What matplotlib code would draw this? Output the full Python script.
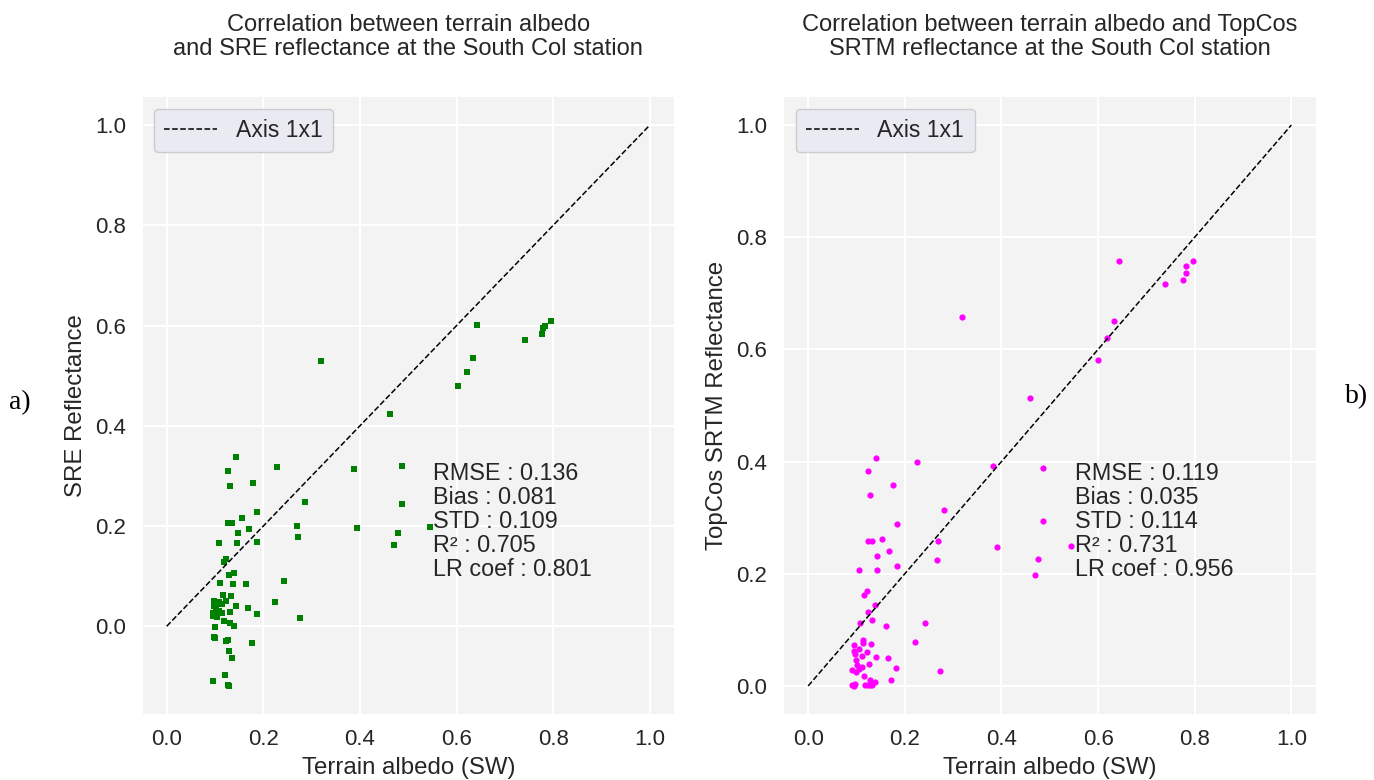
import matplotlib
matplotlib.use("Agg")
import matplotlib.pyplot as plt

plt.rcParams['font.family'] = ['Liberation Sans', 'DejaVu Sans']

# ---- data ----
sre_x = [0.143, 0.126, 0.131, 0.228, 0.178, 0.287, 0.186, 0.155, 0.126, 0.136,
         0.171, 0.147, 0.270, 0.272, 0.109, 0.145, 0.186, 0.123, 0.119, 0.129,
         0.140, 0.111, 0.138, 0.164, 0.243, 0.117, 0.133, 0.097, 0.108, 0.123,
         0.224, 0.098, 0.114, 0.103, 0.143, 0.169, 0.108, 0.096, 0.115, 0.131,
         0.186, 0.095, 0.104, 0.276, 0.119, 0.131, 0.140, 0.100, 0.097, 0.100,
         0.123, 0.126, 0.176, 0.129, 0.136, 0.121, 0.095, 0.126, 0.129,
         0.643, 0.795, 0.782, 0.779, 0.777, 0.741, 0.633, 0.621, 0.603, 0.320,
         0.462, 0.387, 0.488, 0.488, 0.394, 0.545, 0.478, 0.470]
sre_y = [0.337, 0.309, 0.279, 0.318, 0.286, 0.248, 0.228, 0.216, 0.207, 0.207,
         0.194, 0.186, 0.200, 0.178, 0.166, 0.166, 0.168, 0.135, 0.129, 0.103,
         0.107, 0.087, 0.084, 0.084, 0.091, 0.063, 0.061, 0.050, 0.049, 0.050,
         0.048, 0.040, 0.044, 0.037, 0.040, 0.036, 0.030, 0.027, 0.027, 0.029,
         0.025, 0.020, 0.018, 0.017, 0.011, 0.007, 0.001, -0.001, -0.022, -0.024,
         -0.030, -0.028, -0.033, -0.049, -0.064, -0.098, -0.110, -0.117, -0.119,
         0.602, 0.609, 0.600, 0.596, 0.584, 0.572, 0.535, 0.508, 0.480, 0.529,
         0.424, 0.313, 0.320, 0.244, 0.197, 0.199, 0.186, 0.163]

topcos_x = [0.140, 0.226, 0.383, 0.123, 0.176, 0.128, 0.282, 0.183, 0.123, 0.133,
            0.152, 0.268, 0.391, 0.168, 0.142, 0.267, 0.184, 0.106, 0.142, 0.121,
            0.116, 0.138, 0.123, 0.108, 0.133, 0.161, 0.241, 0.113, 0.113, 0.094,
            0.130, 0.222, 0.106, 0.094, 0.097, 0.121, 0.111, 0.140, 0.166, 0.100,
            0.126, 0.102, 0.111, 0.106, 0.091, 0.181, 0.100, 0.273, 0.116, 0.171,
            0.128, 0.138, 0.091, 0.096, 0.094, 0.118, 0.123, 0.128, 0.133,
            0.643, 0.797, 0.783, 0.781, 0.776, 0.739, 0.634, 0.619, 0.600, 0.318,
            0.460, 0.485, 0.485, 0.545, 0.475, 0.470]
topcos_y = [0.406, 0.400, 0.392, 0.384, 0.359, 0.340, 0.313, 0.288, 0.259, 0.259,
            0.262, 0.259, 0.247, 0.241, 0.231, 0.224, 0.214, 0.206, 0.206, 0.169,
            0.162, 0.144, 0.131, 0.112, 0.117, 0.107, 0.112, 0.082, 0.076, 0.073,
            0.075, 0.079, 0.066, 0.063, 0.057, 0.061, 0.054, 0.051, 0.049, 0.046,
            0.040, 0.038, 0.034, 0.030, 0.028, 0.032, 0.024, 0.026, 0.018, 0.011,
            0.011, 0.007, 0.002, 0.004, 0.000, 0.001, 0.001, 0.001, 0.001,
            0.757, 0.757, 0.749, 0.737, 0.724, 0.716, 0.650, 0.621, 0.581, 0.658,
            0.513, 0.389, 0.294, 0.249, 0.226, 0.197]

one_to_one = [0.0, 1.0]
ticks = [0.0, 0.2, 0.4, 0.6, 0.8, 1.0]
tick_labels = ['0.0', '0.2', '0.4', '0.6', '0.8', '1.0']

titles = ['Correlation between terrain albedo\nand SRE reflectance at the South Col station',
          'Correlation between terrain albedo and TopCos\nSRTM reflectance at the South Col station']
ylabels = ['SRE Reflectance', 'TopCos SRTM Reflectance']
xlabel = 'Terrain albedo (SW)'
stats = ['RMSE : 0.136\nBias : 0.081\nSTD : 0.109\nR\u00b2 : 0.705\nLR coef : 0.801',
         'RMSE : 0.119\nBias : 0.035\nSTD : 0.114\nR\u00b2 : 0.731\nLR coef : 0.956']
panel_labels = ['a)', 'b)']

# ---- figure ----
fig = plt.figure(figsize=(13.74, 7.8), dpi=100)
tc = '#262626'
ax1 = fig.add_axes([142.5 / 1374, 1 - 714 / 780, 531.5 / 1374, 617 / 780])
ax2 = fig.add_axes([784 / 1374, 1 - 714 / 780, 531.5 / 1374, 617 / 780])

series = [(ax1, sre_x, sre_y, 'green', 's', 16, (-0.175, 1.056)),
          (ax2, topcos_x, topcos_y, 'magenta', 'o', 20, (-0.05, 1.05))]

for i, (ax, xs, ys, col, mk, sz, ylim) in enumerate(series):
    ax.set_facecolor('#F3F3F3')
    for s in ax.spines.values():
        s.set_visible(False)
    ax.grid(True, color='white', linewidth=1.5)
    ax.set_axisbelow(True)
    ax.scatter(xs, ys, c=col, marker=mk, s=sz, linewidths=0, zorder=3)
    ax.plot(one_to_one, one_to_one, linestyle='--', color='black', linewidth=1.1,
            label='Axis 1x1', zorder=4)
    ax.set_xlim(-0.05, 1.05)
    ax.set_ylim(*ylim)
    ax.set_xticks(ticks)
    ax.set_xticklabels(tick_labels)
    ax.set_yticks(ticks)
    ax.set_yticklabels(tick_labels)
    ax.tick_params(axis='both', length=0, labelsize=16, labelcolor=tc)
    ax.tick_params(axis='x', pad=11)
    ax.tick_params(axis='y', pad=12)
    ax.set_xlabel(xlabel, fontsize=17.3, color=tc, labelpad=5)
    ax.set_ylabel(ylabels[i], fontsize=17.3, color=tc, labelpad=6)
    ax.set_title(titles[i], fontsize=17, color=tc, pad=30, linespacing=1.15)
    leg = ax.legend(loc='upper left', fontsize=16.6, facecolor='#EAEAF2',
                    edgecolor='#CCCCCC', framealpha=1.0, fancybox=True,
                    borderaxespad=0.5, borderpad=0.45, handlelength=2.3,
                    handletextpad=0.8)
    for t in leg.get_texts():
        t.set_color(tc)
    ax.text(0.547, 0.215, stats[i], transform=ax.transAxes, fontsize=16.8,
            color=tc, ha='left', va='bottom', linespacing=1.06)

fig.text(20 / 1374, 1 - 403 / 780, panel_labels[0], fontsize=20,
         family=['Liberation Serif', 'DejaVu Serif'], ha='center', va='center', color='black')
fig.text(1357 / 1374, 1 - 397 / 780, panel_labels[1], fontsize=20,
         family=['Liberation Serif', 'DejaVu Serif'], ha='center', va='center', color='black')

fig.savefig('out.png', dpi=100, facecolor='white')
